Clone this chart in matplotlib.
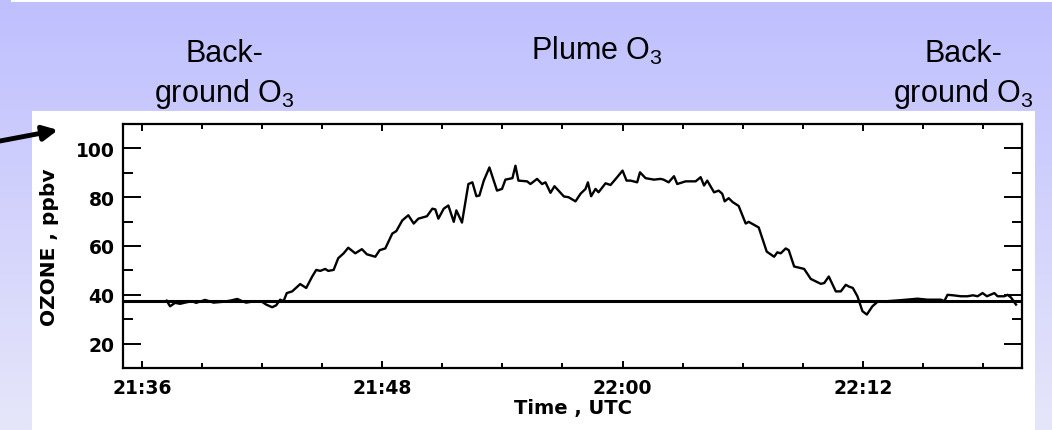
import numpy as np
import matplotlib
matplotlib.use("Agg")
import matplotlib.pyplot as plt
from matplotlib.patches import Rectangle
from matplotlib.ticker import MultipleLocator

plt.rcParams["mathtext.fontset"] = "custom"
plt.rcParams["mathtext.rm"] = "Liberation Sans"

# ozone trace, time in minutes after 21:00 UTC
t_min = [37.23, 37.4, 37.65, 37.9, 38.15, 38.5, 38.7, 39.15, 39.57, 40.0,
         40.4, 40.76, 41.0, 41.2, 41.65, 42.0, 42.2, 42.5, 42.7, 42.9,
         43.07, 43.23, 43.5, 43.9, 44.2, 44.5, 44.7, 44.9, 45.15, 45.3,
         45.57, 45.8, 46.07, 46.3, 46.65, 46.98, 47.23, 47.65, 47.87, 48.15,
         48.5, 48.7, 49.0, 49.3, 49.57, 49.8, 50.23, 50.5, 50.65, 50.8,
         51.07, 51.3, 51.57, 51.7, 51.98, 52.3, 52.5, 52.7, 52.85, 53.07,
         53.35, 53.73, 53.98, 54.15, 54.5, 54.65, 54.8, 55.23, 55.4, 55.73,
         55.98, 56.15, 56.4, 56.6, 56.8, 57.07, 57.3, 57.65, 57.9, 58.15,
         58.27, 58.43, 58.65, 58.8, 59.15, 59.4, 59.73, 60.0, 60.2, 60.4,
         60.73, 60.87, 61.15, 61.57, 61.9, 62.05, 62.3, 62.57, 62.73, 63.15,
         63.65, 63.9, 64.07, 64.23, 64.57, 64.8, 64.98, 65.1, 65.3, 65.5,
         65.8, 66.15, 66.3, 66.8, 67.2, 67.57, 67.73, 67.9, 68.15, 68.3,
         68.57, 69.07, 69.4, 69.9, 70.07, 70.3, 70.65, 70.9, 71.15, 71.3,
         71.5, 71.73, 71.98, 72.2, 72.48, 72.73, 73.23, 73.9, 74.73, 75.23,
         75.9, 76.07, 76.23, 76.5, 76.9, 77.23, 77.5, 77.73, 77.98, 78.2,
         78.57, 78.73, 79.07, 79.23, 79.4, 79.65]
ozone = [37.6, 35.3, 36.7, 36.3, 36.8, 37.4, 36.7, 37.9, 36.8, 37.1,
         37.6, 38.3, 37.4, 36.8, 37.4, 37.1, 36.0, 34.9, 35.7, 38.0,
         37.4, 40.7, 41.4, 44.4, 42.8, 47.5, 50.2, 49.8, 50.6, 49.8,
         50.2, 55.0, 57.0, 59.3, 57.0, 58.7, 56.6, 55.6, 58.3, 59.0,
         65.1, 66.1, 70.5, 72.6, 69.2, 71.2, 72.2, 75.3, 75.0, 71.2,
         75.3, 76.6, 69.9, 74.6, 69.6, 85.4, 86.1, 80.4, 80.7, 86.8,
         92.2, 82.7, 83.4, 87.2, 87.8, 92.9, 86.8, 86.5, 85.4, 87.5,
         85.4, 86.1, 81.8, 84.5, 82.7, 80.3, 80.0, 78.3, 81.4, 83.4,
         86.1, 80.4, 83.4, 82.0, 85.7, 85.0, 88.2, 90.9, 86.8, 86.8,
         86.1, 90.2, 87.8, 87.2, 87.5, 87.2, 86.1, 88.6, 85.4, 86.5,
         86.5, 88.2, 84.8, 86.8, 82.0, 82.7, 81.4, 78.3, 79.6, 78.0,
         76.4, 69.2, 69.9, 67.6, 57.7, 55.6, 57.4, 57.0, 59.0, 58.3,
         51.6, 50.6, 46.5, 44.5, 44.8, 47.5, 41.4, 41.4, 44.1, 43.4,
         42.8, 39.4, 33.3, 31.9, 35.3, 37.1, 37.4, 37.8, 38.4, 38.0,
         38.0, 37.4, 40.0, 39.8, 39.4, 39.4, 39.8, 39.4, 40.7, 39.4,
         40.7, 39.4, 39.4, 40.0, 38.9, 36.0]
background_o3 = 37.6

tick_pos = [36, 48, 60, 72]
tick_labels = ["21:36", "21:48", "22:00", "22:12"]

W, H = 1052, 431
fig = plt.figure(figsize=(W / 100, H / 100), dpi=100)

# lavender gradient slide background
bg = fig.add_axes([0, 0, 1, 1], zorder=-10)
top = np.array([191, 191, 255]) / 255
bot = np.array([230, 230, 250]) / 255
g = np.linspace(0, 1, 200)[:, None, None]
grad = top * (1 - g) + bot * g
bg.imshow(np.repeat(grad, 2, axis=1), aspect="auto", extent=[0, 1, 0, 1])
bg.set_xlim(0, 1)
bg.set_ylim(0, 1)
bg.axis("off")

fig.patches.append(Rectangle((11 / W, 1 - 3 / H), 1, 3 / H, transform=fig.transFigure,
                             facecolor="white", edgecolor="none", zorder=-5))
fig.patches.append(Rectangle((32 / W, 0), (1035 - 32) / W, (H - 112) / H,
                             transform=fig.transFigure, facecolor="white",
                             edgecolor="none", zorder=-5))

ax = fig.add_axes([123 / W, (H - 369) / H, (1022 - 123) / W, (369 - 125) / H])
ax.plot(t_min, ozone, color="black", lw=1.7)
ax.axhline(background_o3, color="black", lw=2.2)

ax.set_xlim(35.05, 79.95)
ax.set_ylim(10, 110)
ax.set_xticks(tick_pos)
ax.set_xticklabels(tick_labels)
ax.xaxis.set_minor_locator(MultipleLocator(3))
ax.set_yticks([20, 40, 60, 80, 100])
ax.yaxis.set_minor_locator(MultipleLocator(10))
ax.tick_params(which="both", direction="in", top=True, right=True, width=1.4,
               labelsize=13.5, colors="black")
ax.tick_params(axis="y", which="major", length=13, pad=6)
ax.tick_params(axis="y", which="minor", length=7)
ax.tick_params(axis="x", which="major", length=5, pad=7)
ax.tick_params(axis="x", which="minor", length=3.5)
for lab in ax.get_xticklabels() + ax.get_yticklabels():
    lab.set_fontweight("bold")
for s in ax.spines.values():
    s.set_linewidth(1.6)

ax.set_xlabel("Time , UTC", fontsize=14, fontweight="bold", labelpad=1)
ax.set_ylabel("OZONE , ppbv", fontsize=14.5, fontweight="bold", labelpad=12)

# slide annotations
tfont = dict(family="Liberation Sans", fontsize=22,
             ha="center", va="baseline", linespacing=1.3)
fig.text(224 / W, 1 - 102 / H, "Back-\nground O$_3$", **tfont)
fig.text(963 / W, 1 - 102 / H, "Back-\nground O$_3$", **tfont)
fig.text(597 / W, 1 - 60 / H, "Plume O$_3$", **tfont)

ax.annotate("", xy=(58 / W, 1 - 131 / H), xytext=(0, 1 - 142 / H),
            xycoords="figure fraction", textcoords="figure fraction",
            arrowprops=dict(arrowstyle="-|>", color="black", lw=3.5,
                            mutation_scale=22, shrinkA=0, shrinkB=0))

fig.savefig("out.png", dpi=100)
